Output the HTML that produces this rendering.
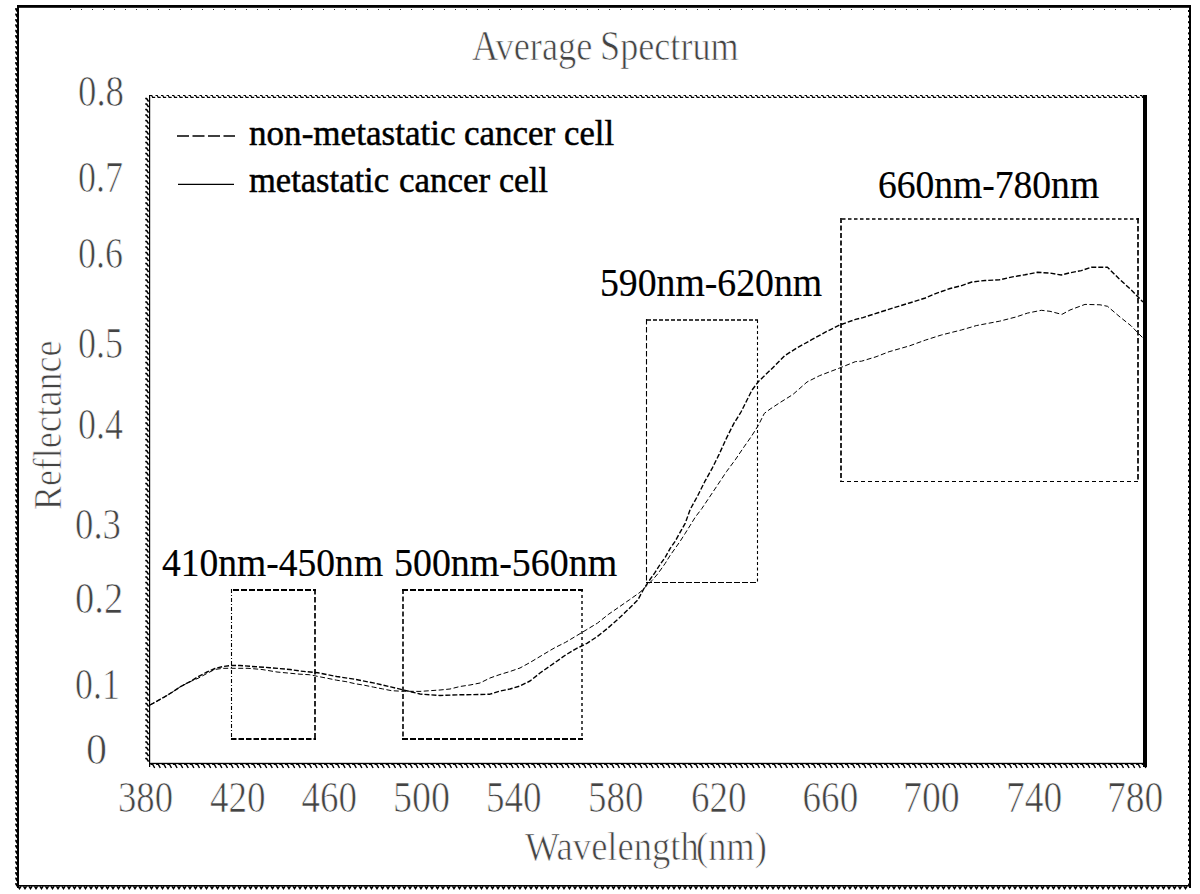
<!DOCTYPE html>
<html><head><meta charset="utf-8"><style>
html,body{margin:0;padding:0;background:#fff;width:1200px;height:894px;overflow:hidden}
svg{display:block}
text{font-family:"Liberation Serif",serif}
</style></head><body>
<svg width="1200" height="894" viewBox="0 0 1200 894">
<rect x="0" y="0" width="1200" height="894" fill="#fff"/>
<!-- outer frame -->
<rect x="17" y="5" width="1174" height="2.8" fill="#000"/>
<rect x="17" y="5" width="2" height="883" fill="#000"/>
<rect x="1189" y="5" width="2" height="883" fill="#000"/>
<rect x="17" y="885" width="1174" height="1.6" fill="#000"/>
<path d="M15.2,9.00 L16,9.00 L17.4,11.60 M15.2,14.40 L16,14.40 L17.4,17.00 M15.2,19.80 L16,19.80 L17.4,22.40 M15.2,25.20 L16,25.20 L17.4,27.80 M15.2,30.60 L16,30.60 L17.4,33.20 M15.2,36.00 L16,36.00 L17.4,38.60 M15.2,41.40 L16,41.40 L17.4,44.00 M15.2,46.80 L16,46.80 L17.4,49.40 M15.2,52.20 L16,52.20 L17.4,54.80 M15.2,57.60 L16,57.60 L17.4,60.20 M15.2,63.00 L16,63.00 L17.4,65.60 M15.2,68.40 L16,68.40 L17.4,71.00 M15.2,73.80 L16,73.80 L17.4,76.40 M15.2,79.20 L16,79.20 L17.4,81.80 M15.2,84.60 L16,84.60 L17.4,87.20 M15.2,90.00 L16,90.00 L17.4,92.60 M15.2,95.40 L16,95.40 L17.4,98.00 M15.2,100.80 L16,100.80 L17.4,103.40 M15.2,106.20 L16,106.20 L17.4,108.80 M15.2,111.60 L16,111.60 L17.4,114.20 M15.2,117.00 L16,117.00 L17.4,119.60 M15.2,122.40 L16,122.40 L17.4,125.00 M15.2,127.80 L16,127.80 L17.4,130.40 M15.2,133.20 L16,133.20 L17.4,135.80 M15.2,138.60 L16,138.60 L17.4,141.20 M15.2,144.00 L16,144.00 L17.4,146.60 M15.2,149.40 L16,149.40 L17.4,152.00 M15.2,154.80 L16,154.80 L17.4,157.40 M15.2,160.20 L16,160.20 L17.4,162.80 M15.2,165.60 L16,165.60 L17.4,168.20 M15.2,171.00 L16,171.00 L17.4,173.60 M15.2,176.40 L16,176.40 L17.4,179.00 M15.2,181.80 L16,181.80 L17.4,184.40 M15.2,187.20 L16,187.20 L17.4,189.80 M15.2,192.60 L16,192.60 L17.4,195.20 M15.2,198.00 L16,198.00 L17.4,200.60 M15.2,203.40 L16,203.40 L17.4,206.00 M15.2,208.80 L16,208.80 L17.4,211.40 M15.2,214.20 L16,214.20 L17.4,216.80 M15.2,219.60 L16,219.60 L17.4,222.20 M15.2,225.00 L16,225.00 L17.4,227.60 M15.2,230.40 L16,230.40 L17.4,233.00 M15.2,235.80 L16,235.80 L17.4,238.40 M15.2,241.20 L16,241.20 L17.4,243.80 M15.2,246.60 L16,246.60 L17.4,249.20 M15.2,252.00 L16,252.00 L17.4,254.60 M15.2,257.40 L16,257.40 L17.4,260.00 M15.2,262.80 L16,262.80 L17.4,265.40 M15.2,268.20 L16,268.20 L17.4,270.80 M15.2,273.60 L16,273.60 L17.4,276.20 M15.2,279.00 L16,279.00 L17.4,281.60 M15.2,284.40 L16,284.40 L17.4,287.00 M15.2,289.80 L16,289.80 L17.4,292.40 M15.2,295.20 L16,295.20 L17.4,297.80 M15.2,300.60 L16,300.60 L17.4,303.20 M15.2,306.00 L16,306.00 L17.4,308.60 M15.2,311.40 L16,311.40 L17.4,314.00 M15.2,316.80 L16,316.80 L17.4,319.40 M15.2,322.20 L16,322.20 L17.4,324.80 M15.2,327.60 L16,327.60 L17.4,330.20 M15.2,333.00 L16,333.00 L17.4,335.60 M15.2,338.40 L16,338.40 L17.4,341.00 M15.2,343.80 L16,343.80 L17.4,346.40 M15.2,349.20 L16,349.20 L17.4,351.80 M15.2,354.60 L16,354.60 L17.4,357.20 M15.2,360.00 L16,360.00 L17.4,362.60 M15.2,365.40 L16,365.40 L17.4,368.00 M15.2,370.80 L16,370.80 L17.4,373.40 M15.2,376.20 L16,376.20 L17.4,378.80 M15.2,381.60 L16,381.60 L17.4,384.20 M15.2,387.00 L16,387.00 L17.4,389.60 M15.2,392.40 L16,392.40 L17.4,395.00 M15.2,397.80 L16,397.80 L17.4,400.40 M15.2,403.20 L16,403.20 L17.4,405.80 M15.2,408.60 L16,408.60 L17.4,411.20 M15.2,414.00 L16,414.00 L17.4,416.60 M15.2,419.40 L16,419.40 L17.4,422.00 M15.2,424.80 L16,424.80 L17.4,427.40 M15.2,430.20 L16,430.20 L17.4,432.80 M15.2,435.60 L16,435.60 L17.4,438.20 M15.2,441.00 L16,441.00 L17.4,443.60 M15.2,446.40 L16,446.40 L17.4,449.00 M15.2,451.80 L16,451.80 L17.4,454.40 M15.2,457.20 L16,457.20 L17.4,459.80 M15.2,462.60 L16,462.60 L17.4,465.20 M15.2,468.00 L16,468.00 L17.4,470.60 M15.2,473.40 L16,473.40 L17.4,476.00 M15.2,478.80 L16,478.80 L17.4,481.40 M15.2,484.20 L16,484.20 L17.4,486.80 M15.2,489.60 L16,489.60 L17.4,492.20 M15.2,495.00 L16,495.00 L17.4,497.60 M15.2,500.40 L16,500.40 L17.4,503.00 M15.2,505.80 L16,505.80 L17.4,508.40 M15.2,511.20 L16,511.20 L17.4,513.80 M15.2,516.60 L16,516.60 L17.4,519.20 M15.2,522.00 L16,522.00 L17.4,524.60 M15.2,527.40 L16,527.40 L17.4,530.00 M15.2,532.80 L16,532.80 L17.4,535.40 M15.2,538.20 L16,538.20 L17.4,540.80 M15.2,543.60 L16,543.60 L17.4,546.20 M15.2,549.00 L16,549.00 L17.4,551.60 M15.2,554.40 L16,554.40 L17.4,557.00 M15.2,559.80 L16,559.80 L17.4,562.40 M15.2,565.20 L16,565.20 L17.4,567.80 M15.2,570.60 L16,570.60 L17.4,573.20 M15.2,576.00 L16,576.00 L17.4,578.60 M15.2,581.40 L16,581.40 L17.4,584.00 M15.2,586.80 L16,586.80 L17.4,589.40 M15.2,592.20 L16,592.20 L17.4,594.80 M15.2,597.60 L16,597.60 L17.4,600.20 M15.2,603.00 L16,603.00 L17.4,605.60 M15.2,608.40 L16,608.40 L17.4,611.00 M15.2,613.80 L16,613.80 L17.4,616.40 M15.2,619.20 L16,619.20 L17.4,621.80 M15.2,624.60 L16,624.60 L17.4,627.20 M15.2,630.00 L16,630.00 L17.4,632.60 M15.2,635.40 L16,635.40 L17.4,638.00 M15.2,640.80 L16,640.80 L17.4,643.40 M15.2,646.20 L16,646.20 L17.4,648.80 M15.2,651.60 L16,651.60 L17.4,654.20 M15.2,657.00 L16,657.00 L17.4,659.60 M15.2,662.40 L16,662.40 L17.4,665.00 M15.2,667.80 L16,667.80 L17.4,670.40 M15.2,673.20 L16,673.20 L17.4,675.80 M15.2,678.60 L16,678.60 L17.4,681.20 M15.2,684.00 L16,684.00 L17.4,686.60 M15.2,689.40 L16,689.40 L17.4,692.00 M15.2,694.80 L16,694.80 L17.4,697.40 M15.2,700.20 L16,700.20 L17.4,702.80 M15.2,705.60 L16,705.60 L17.4,708.20 M15.2,711.00 L16,711.00 L17.4,713.60 M15.2,716.40 L16,716.40 L17.4,719.00 M15.2,721.80 L16,721.80 L17.4,724.40 M15.2,727.20 L16,727.20 L17.4,729.80 M15.2,732.60 L16,732.60 L17.4,735.20 M15.2,738.00 L16,738.00 L17.4,740.60 M15.2,743.40 L16,743.40 L17.4,746.00 M15.2,748.80 L16,748.80 L17.4,751.40 M15.2,754.20 L16,754.20 L17.4,756.80 M15.2,759.60 L16,759.60 L17.4,762.20 M15.2,765.00 L16,765.00 L17.4,767.60 M15.2,770.40 L16,770.40 L17.4,773.00 M15.2,775.80 L16,775.80 L17.4,778.40 M15.2,781.20 L16,781.20 L17.4,783.80 M15.2,786.60 L16,786.60 L17.4,789.20 M15.2,792.00 L16,792.00 L17.4,794.60 M15.2,797.40 L16,797.40 L17.4,800.00 M15.2,802.80 L16,802.80 L17.4,805.40 M15.2,808.20 L16,808.20 L17.4,810.80 M15.2,813.60 L16,813.60 L17.4,816.20 M15.2,819.00 L16,819.00 L17.4,821.60 M15.2,824.40 L16,824.40 L17.4,827.00 M15.2,829.80 L16,829.80 L17.4,832.40 M15.2,835.20 L16,835.20 L17.4,837.80 M15.2,840.60 L16,840.60 L17.4,843.20 M15.2,846.00 L16,846.00 L17.4,848.60 M15.2,851.40 L16,851.40 L17.4,854.00 M15.2,856.80 L16,856.80 L17.4,859.40 M15.2,862.20 L16,862.20 L17.4,864.80 M15.2,867.60 L16,867.60 L17.4,870.20 M15.2,873.00 L16,873.00 L17.4,875.60 M15.2,878.40 L16,878.40 L17.4,881.00 M15.2,883.80 L16,883.80 L17.4,886.40" stroke="#000" stroke-width="1.8" fill="none"/>
<path d="M1188.5,10.00 L1188.5,12.00 M1188.5,15.60 L1188.5,17.60 M1188.5,21.20 L1188.5,23.20 M1188.5,26.80 L1188.5,28.80 M1188.5,32.40 L1188.5,34.40 M1188.5,38.00 L1188.5,40.00 M1188.5,43.60 L1188.5,45.60 M1188.5,49.20 L1188.5,51.20 M1188.5,54.80 L1188.5,56.80 M1188.5,60.40 L1188.5,62.40 M1188.5,66.00 L1188.5,68.00 M1188.5,71.60 L1188.5,73.60 M1188.5,77.20 L1188.5,79.20 M1188.5,82.80 L1188.5,84.80 M1188.5,88.40 L1188.5,90.40 M1188.5,94.00 L1188.5,96.00 M1188.5,99.60 L1188.5,101.60 M1188.5,105.20 L1188.5,107.20 M1188.5,110.80 L1188.5,112.80 M1188.5,116.40 L1188.5,118.40 M1188.5,122.00 L1188.5,124.00 M1188.5,127.60 L1188.5,129.60 M1188.5,133.20 L1188.5,135.20 M1188.5,138.80 L1188.5,140.80 M1188.5,144.40 L1188.5,146.40 M1188.5,150.00 L1188.5,152.00 M1188.5,155.60 L1188.5,157.60 M1188.5,161.20 L1188.5,163.20 M1188.5,166.80 L1188.5,168.80 M1188.5,172.40 L1188.5,174.40 M1188.5,178.00 L1188.5,180.00 M1188.5,183.60 L1188.5,185.60 M1188.5,189.20 L1188.5,191.20 M1188.5,194.80 L1188.5,196.80 M1188.5,200.40 L1188.5,202.40 M1188.5,206.00 L1188.5,208.00 M1188.5,211.60 L1188.5,213.60 M1188.5,217.20 L1188.5,219.20 M1188.5,222.80 L1188.5,224.80 M1188.5,228.40 L1188.5,230.40 M1188.5,234.00 L1188.5,236.00 M1188.5,239.60 L1188.5,241.60 M1188.5,245.20 L1188.5,247.20 M1188.5,250.80 L1188.5,252.80 M1188.5,256.40 L1188.5,258.40 M1188.5,262.00 L1188.5,264.00 M1188.5,267.60 L1188.5,269.60 M1188.5,273.20 L1188.5,275.20 M1188.5,278.80 L1188.5,280.80 M1188.5,284.40 L1188.5,286.40 M1188.5,290.00 L1188.5,292.00 M1188.5,295.60 L1188.5,297.60 M1188.5,301.20 L1188.5,303.20 M1188.5,306.80 L1188.5,308.80 M1188.5,312.40 L1188.5,314.40 M1188.5,318.00 L1188.5,320.00 M1188.5,323.60 L1188.5,325.60 M1188.5,329.20 L1188.5,331.20 M1188.5,334.80 L1188.5,336.80 M1188.5,340.40 L1188.5,342.40 M1188.5,346.00 L1188.5,348.00 M1188.5,351.60 L1188.5,353.60 M1188.5,357.20 L1188.5,359.20 M1188.5,362.80 L1188.5,364.80 M1188.5,368.40 L1188.5,370.40 M1188.5,374.00 L1188.5,376.00 M1188.5,379.60 L1188.5,381.60 M1188.5,385.20 L1188.5,387.20 M1188.5,390.80 L1188.5,392.80 M1188.5,396.40 L1188.5,398.40 M1188.5,402.00 L1188.5,404.00 M1188.5,407.60 L1188.5,409.60 M1188.5,413.20 L1188.5,415.20 M1188.5,418.80 L1188.5,420.80 M1188.5,424.40 L1188.5,426.40 M1188.5,430.00 L1188.5,432.00 M1188.5,435.60 L1188.5,437.60 M1188.5,441.20 L1188.5,443.20 M1188.5,446.80 L1188.5,448.80 M1188.5,452.40 L1188.5,454.40 M1188.5,458.00 L1188.5,460.00 M1188.5,463.60 L1188.5,465.60 M1188.5,469.20 L1188.5,471.20 M1188.5,474.80 L1188.5,476.80 M1188.5,480.40 L1188.5,482.40 M1188.5,486.00 L1188.5,488.00 M1188.5,491.60 L1188.5,493.60 M1188.5,497.20 L1188.5,499.20 M1188.5,502.80 L1188.5,504.80 M1188.5,508.40 L1188.5,510.40 M1188.5,514.00 L1188.5,516.00 M1188.5,519.60 L1188.5,521.60 M1188.5,525.20 L1188.5,527.20 M1188.5,530.80 L1188.5,532.80 M1188.5,536.40 L1188.5,538.40 M1188.5,542.00 L1188.5,544.00 M1188.5,547.60 L1188.5,549.60 M1188.5,553.20 L1188.5,555.20 M1188.5,558.80 L1188.5,560.80 M1188.5,564.40 L1188.5,566.40 M1188.5,570.00 L1188.5,572.00 M1188.5,575.60 L1188.5,577.60 M1188.5,581.20 L1188.5,583.20 M1188.5,586.80 L1188.5,588.80 M1188.5,592.40 L1188.5,594.40 M1188.5,598.00 L1188.5,600.00 M1188.5,603.60 L1188.5,605.60 M1188.5,609.20 L1188.5,611.20 M1188.5,614.80 L1188.5,616.80 M1188.5,620.40 L1188.5,622.40 M1188.5,626.00 L1188.5,628.00 M1188.5,631.60 L1188.5,633.60 M1188.5,637.20 L1188.5,639.20 M1188.5,642.80 L1188.5,644.80 M1188.5,648.40 L1188.5,650.40 M1188.5,654.00 L1188.5,656.00 M1188.5,659.60 L1188.5,661.60 M1188.5,665.20 L1188.5,667.20 M1188.5,670.80 L1188.5,672.80 M1188.5,676.40 L1188.5,678.40 M1188.5,682.00 L1188.5,684.00 M1188.5,687.60 L1188.5,689.60 M1188.5,693.20 L1188.5,695.20 M1188.5,698.80 L1188.5,700.80 M1188.5,704.40 L1188.5,706.40 M1188.5,710.00 L1188.5,712.00 M1188.5,715.60 L1188.5,717.60 M1188.5,721.20 L1188.5,723.20 M1188.5,726.80 L1188.5,728.80 M1188.5,732.40 L1188.5,734.40 M1188.5,738.00 L1188.5,740.00 M1188.5,743.60 L1188.5,745.60 M1188.5,749.20 L1188.5,751.20 M1188.5,754.80 L1188.5,756.80 M1188.5,760.40 L1188.5,762.40 M1188.5,766.00 L1188.5,768.00 M1188.5,771.60 L1188.5,773.60 M1188.5,777.20 L1188.5,779.20 M1188.5,782.80 L1188.5,784.80 M1188.5,788.40 L1188.5,790.40 M1188.5,794.00 L1188.5,796.00 M1188.5,799.60 L1188.5,801.60 M1188.5,805.20 L1188.5,807.20 M1188.5,810.80 L1188.5,812.80 M1188.5,816.40 L1188.5,818.40 M1188.5,822.00 L1188.5,824.00 M1188.5,827.60 L1188.5,829.60 M1188.5,833.20 L1188.5,835.20 M1188.5,838.80 L1188.5,840.80 M1188.5,844.40 L1188.5,846.40 M1188.5,850.00 L1188.5,852.00 M1188.5,855.60 L1188.5,857.60 M1188.5,861.20 L1188.5,863.20 M1188.5,866.80 L1188.5,868.80 M1188.5,872.40 L1188.5,874.40 M1188.5,878.00 L1188.5,880.00 M1188.5,883.60 L1188.5,885.60" stroke="#000" stroke-width="1" fill="none"/>
<path d="M18.00,886.4 L19.50,888.6 L21.00,886.4 M23.50,886.4 L25.00,888.6 L26.50,886.4 M29.00,886.4 L30.50,888.6 L32.00,886.4 M34.50,886.4 L36.00,888.6 L37.50,886.4 M40.00,886.4 L41.50,888.6 L43.00,886.4 M45.50,886.4 L47.00,888.6 L48.50,886.4 M51.00,886.4 L52.50,888.6 L54.00,886.4 M56.50,886.4 L58.00,888.6 L59.50,886.4 M62.00,886.4 L63.50,888.6 L65.00,886.4 M67.50,886.4 L69.00,888.6 L70.50,886.4 M73.00,886.4 L74.50,888.6 L76.00,886.4 M78.50,886.4 L80.00,888.6 L81.50,886.4 M84.00,886.4 L85.50,888.6 L87.00,886.4 M89.50,886.4 L91.00,888.6 L92.50,886.4 M95.00,886.4 L96.50,888.6 L98.00,886.4 M100.50,886.4 L102.00,888.6 L103.50,886.4 M106.00,886.4 L107.50,888.6 L109.00,886.4 M111.50,886.4 L113.00,888.6 L114.50,886.4 M117.00,886.4 L118.50,888.6 L120.00,886.4 M122.50,886.4 L124.00,888.6 L125.50,886.4 M128.00,886.4 L129.50,888.6 L131.00,886.4 M133.50,886.4 L135.00,888.6 L136.50,886.4 M139.00,886.4 L140.50,888.6 L142.00,886.4 M144.50,886.4 L146.00,888.6 L147.50,886.4 M150.00,886.4 L151.50,888.6 L153.00,886.4 M155.50,886.4 L157.00,888.6 L158.50,886.4 M161.00,886.4 L162.50,888.6 L164.00,886.4 M166.50,886.4 L168.00,888.6 L169.50,886.4 M172.00,886.4 L173.50,888.6 L175.00,886.4 M177.50,886.4 L179.00,888.6 L180.50,886.4 M183.00,886.4 L184.50,888.6 L186.00,886.4 M188.50,886.4 L190.00,888.6 L191.50,886.4 M194.00,886.4 L195.50,888.6 L197.00,886.4 M199.50,886.4 L201.00,888.6 L202.50,886.4 M205.00,886.4 L206.50,888.6 L208.00,886.4 M210.50,886.4 L212.00,888.6 L213.50,886.4 M216.00,886.4 L217.50,888.6 L219.00,886.4 M221.50,886.4 L223.00,888.6 L224.50,886.4 M227.00,886.4 L228.50,888.6 L230.00,886.4 M232.50,886.4 L234.00,888.6 L235.50,886.4 M238.00,886.4 L239.50,888.6 L241.00,886.4 M243.50,886.4 L245.00,888.6 L246.50,886.4 M249.00,886.4 L250.50,888.6 L252.00,886.4 M254.50,886.4 L256.00,888.6 L257.50,886.4 M260.00,886.4 L261.50,888.6 L263.00,886.4 M265.50,886.4 L267.00,888.6 L268.50,886.4 M271.00,886.4 L272.50,888.6 L274.00,886.4 M276.50,886.4 L278.00,888.6 L279.50,886.4 M282.00,886.4 L283.50,888.6 L285.00,886.4 M287.50,886.4 L289.00,888.6 L290.50,886.4 M293.00,886.4 L294.50,888.6 L296.00,886.4 M298.50,886.4 L300.00,888.6 L301.50,886.4 M304.00,886.4 L305.50,888.6 L307.00,886.4 M309.50,886.4 L311.00,888.6 L312.50,886.4 M315.00,886.4 L316.50,888.6 L318.00,886.4 M320.50,886.4 L322.00,888.6 L323.50,886.4 M326.00,886.4 L327.50,888.6 L329.00,886.4 M331.50,886.4 L333.00,888.6 L334.50,886.4 M337.00,886.4 L338.50,888.6 L340.00,886.4 M342.50,886.4 L344.00,888.6 L345.50,886.4 M348.00,886.4 L349.50,888.6 L351.00,886.4 M353.50,886.4 L355.00,888.6 L356.50,886.4 M359.00,886.4 L360.50,888.6 L362.00,886.4 M364.50,886.4 L366.00,888.6 L367.50,886.4 M370.00,886.4 L371.50,888.6 L373.00,886.4 M375.50,886.4 L377.00,888.6 L378.50,886.4 M381.00,886.4 L382.50,888.6 L384.00,886.4 M386.50,886.4 L388.00,888.6 L389.50,886.4 M392.00,886.4 L393.50,888.6 L395.00,886.4 M397.50,886.4 L399.00,888.6 L400.50,886.4 M403.00,886.4 L404.50,888.6 L406.00,886.4 M408.50,886.4 L410.00,888.6 L411.50,886.4 M414.00,886.4 L415.50,888.6 L417.00,886.4 M419.50,886.4 L421.00,888.6 L422.50,886.4 M425.00,886.4 L426.50,888.6 L428.00,886.4 M430.50,886.4 L432.00,888.6 L433.50,886.4 M436.00,886.4 L437.50,888.6 L439.00,886.4 M441.50,886.4 L443.00,888.6 L444.50,886.4 M447.00,886.4 L448.50,888.6 L450.00,886.4 M452.50,886.4 L454.00,888.6 L455.50,886.4 M458.00,886.4 L459.50,888.6 L461.00,886.4 M463.50,886.4 L465.00,888.6 L466.50,886.4 M469.00,886.4 L470.50,888.6 L472.00,886.4 M474.50,886.4 L476.00,888.6 L477.50,886.4 M480.00,886.4 L481.50,888.6 L483.00,886.4 M485.50,886.4 L487.00,888.6 L488.50,886.4 M491.00,886.4 L492.50,888.6 L494.00,886.4 M496.50,886.4 L498.00,888.6 L499.50,886.4 M502.00,886.4 L503.50,888.6 L505.00,886.4 M507.50,886.4 L509.00,888.6 L510.50,886.4 M513.00,886.4 L514.50,888.6 L516.00,886.4 M518.50,886.4 L520.00,888.6 L521.50,886.4 M524.00,886.4 L525.50,888.6 L527.00,886.4 M529.50,886.4 L531.00,888.6 L532.50,886.4 M535.00,886.4 L536.50,888.6 L538.00,886.4 M540.50,886.4 L542.00,888.6 L543.50,886.4 M546.00,886.4 L547.50,888.6 L549.00,886.4 M551.50,886.4 L553.00,888.6 L554.50,886.4 M557.00,886.4 L558.50,888.6 L560.00,886.4 M562.50,886.4 L564.00,888.6 L565.50,886.4 M568.00,886.4 L569.50,888.6 L571.00,886.4 M573.50,886.4 L575.00,888.6 L576.50,886.4 M579.00,886.4 L580.50,888.6 L582.00,886.4 M584.50,886.4 L586.00,888.6 L587.50,886.4 M590.00,886.4 L591.50,888.6 L593.00,886.4 M595.50,886.4 L597.00,888.6 L598.50,886.4 M601.00,886.4 L602.50,888.6 L604.00,886.4 M606.50,886.4 L608.00,888.6 L609.50,886.4 M612.00,886.4 L613.50,888.6 L615.00,886.4 M617.50,886.4 L619.00,888.6 L620.50,886.4 M623.00,886.4 L624.50,888.6 L626.00,886.4 M628.50,886.4 L630.00,888.6 L631.50,886.4 M634.00,886.4 L635.50,888.6 L637.00,886.4 M639.50,886.4 L641.00,888.6 L642.50,886.4 M645.00,886.4 L646.50,888.6 L648.00,886.4 M650.50,886.4 L652.00,888.6 L653.50,886.4 M656.00,886.4 L657.50,888.6 L659.00,886.4 M661.50,886.4 L663.00,888.6 L664.50,886.4 M667.00,886.4 L668.50,888.6 L670.00,886.4 M672.50,886.4 L674.00,888.6 L675.50,886.4 M678.00,886.4 L679.50,888.6 L681.00,886.4 M683.50,886.4 L685.00,888.6 L686.50,886.4 M689.00,886.4 L690.50,888.6 L692.00,886.4 M694.50,886.4 L696.00,888.6 L697.50,886.4 M700.00,886.4 L701.50,888.6 L703.00,886.4 M705.50,886.4 L707.00,888.6 L708.50,886.4 M711.00,886.4 L712.50,888.6 L714.00,886.4 M716.50,886.4 L718.00,888.6 L719.50,886.4 M722.00,886.4 L723.50,888.6 L725.00,886.4 M727.50,886.4 L729.00,888.6 L730.50,886.4 M733.00,886.4 L734.50,888.6 L736.00,886.4 M738.50,886.4 L740.00,888.6 L741.50,886.4 M744.00,886.4 L745.50,888.6 L747.00,886.4 M749.50,886.4 L751.00,888.6 L752.50,886.4 M755.00,886.4 L756.50,888.6 L758.00,886.4 M760.50,886.4 L762.00,888.6 L763.50,886.4 M766.00,886.4 L767.50,888.6 L769.00,886.4 M771.50,886.4 L773.00,888.6 L774.50,886.4 M777.00,886.4 L778.50,888.6 L780.00,886.4 M782.50,886.4 L784.00,888.6 L785.50,886.4 M788.00,886.4 L789.50,888.6 L791.00,886.4 M793.50,886.4 L795.00,888.6 L796.50,886.4 M799.00,886.4 L800.50,888.6 L802.00,886.4 M804.50,886.4 L806.00,888.6 L807.50,886.4 M810.00,886.4 L811.50,888.6 L813.00,886.4 M815.50,886.4 L817.00,888.6 L818.50,886.4 M821.00,886.4 L822.50,888.6 L824.00,886.4 M826.50,886.4 L828.00,888.6 L829.50,886.4 M832.00,886.4 L833.50,888.6 L835.00,886.4 M837.50,886.4 L839.00,888.6 L840.50,886.4 M843.00,886.4 L844.50,888.6 L846.00,886.4 M848.50,886.4 L850.00,888.6 L851.50,886.4 M854.00,886.4 L855.50,888.6 L857.00,886.4 M859.50,886.4 L861.00,888.6 L862.50,886.4 M865.00,886.4 L866.50,888.6 L868.00,886.4 M870.50,886.4 L872.00,888.6 L873.50,886.4 M876.00,886.4 L877.50,888.6 L879.00,886.4 M881.50,886.4 L883.00,888.6 L884.50,886.4 M887.00,886.4 L888.50,888.6 L890.00,886.4 M892.50,886.4 L894.00,888.6 L895.50,886.4 M898.00,886.4 L899.50,888.6 L901.00,886.4 M903.50,886.4 L905.00,888.6 L906.50,886.4 M909.00,886.4 L910.50,888.6 L912.00,886.4 M914.50,886.4 L916.00,888.6 L917.50,886.4 M920.00,886.4 L921.50,888.6 L923.00,886.4 M925.50,886.4 L927.00,888.6 L928.50,886.4 M931.00,886.4 L932.50,888.6 L934.00,886.4 M936.50,886.4 L938.00,888.6 L939.50,886.4 M942.00,886.4 L943.50,888.6 L945.00,886.4 M947.50,886.4 L949.00,888.6 L950.50,886.4 M953.00,886.4 L954.50,888.6 L956.00,886.4 M958.50,886.4 L960.00,888.6 L961.50,886.4 M964.00,886.4 L965.50,888.6 L967.00,886.4 M969.50,886.4 L971.00,888.6 L972.50,886.4 M975.00,886.4 L976.50,888.6 L978.00,886.4 M980.50,886.4 L982.00,888.6 L983.50,886.4 M986.00,886.4 L987.50,888.6 L989.00,886.4 M991.50,886.4 L993.00,888.6 L994.50,886.4 M997.00,886.4 L998.50,888.6 L1000.00,886.4 M1002.50,886.4 L1004.00,888.6 L1005.50,886.4 M1008.00,886.4 L1009.50,888.6 L1011.00,886.4 M1013.50,886.4 L1015.00,888.6 L1016.50,886.4 M1019.00,886.4 L1020.50,888.6 L1022.00,886.4 M1024.50,886.4 L1026.00,888.6 L1027.50,886.4 M1030.00,886.4 L1031.50,888.6 L1033.00,886.4 M1035.50,886.4 L1037.00,888.6 L1038.50,886.4 M1041.00,886.4 L1042.50,888.6 L1044.00,886.4 M1046.50,886.4 L1048.00,888.6 L1049.50,886.4 M1052.00,886.4 L1053.50,888.6 L1055.00,886.4 M1057.50,886.4 L1059.00,888.6 L1060.50,886.4 M1063.00,886.4 L1064.50,888.6 L1066.00,886.4 M1068.50,886.4 L1070.00,888.6 L1071.50,886.4 M1074.00,886.4 L1075.50,888.6 L1077.00,886.4 M1079.50,886.4 L1081.00,888.6 L1082.50,886.4 M1085.00,886.4 L1086.50,888.6 L1088.00,886.4 M1090.50,886.4 L1092.00,888.6 L1093.50,886.4 M1096.00,886.4 L1097.50,888.6 L1099.00,886.4 M1101.50,886.4 L1103.00,888.6 L1104.50,886.4 M1107.00,886.4 L1108.50,888.6 L1110.00,886.4 M1112.50,886.4 L1114.00,888.6 L1115.50,886.4 M1118.00,886.4 L1119.50,888.6 L1121.00,886.4 M1123.50,886.4 L1125.00,888.6 L1126.50,886.4 M1129.00,886.4 L1130.50,888.6 L1132.00,886.4 M1134.50,886.4 L1136.00,888.6 L1137.50,886.4 M1140.00,886.4 L1141.50,888.6 L1143.00,886.4 M1145.50,886.4 L1147.00,888.6 L1148.50,886.4 M1151.00,886.4 L1152.50,888.6 L1154.00,886.4 M1156.50,886.4 L1158.00,888.6 L1159.50,886.4 M1162.00,886.4 L1163.50,888.6 L1165.00,886.4 M1167.50,886.4 L1169.00,888.6 L1170.50,886.4 M1173.00,886.4 L1174.50,888.6 L1176.00,886.4 M1178.50,886.4 L1180.00,888.6 L1181.50,886.4 M1184.00,886.4 L1185.50,888.6 L1187.00,886.4" stroke="#000" stroke-width="1.5" fill="none"/>
<path d="M70.0,9.5 h1 M81.0,9.5 h1 M92.0,9.5 h1 M103.0,9.5 h1 M114.0,9.5 h1 M125.0,9.5 h1 M136.0,9.5 h1 M147.0,9.5 h1 M158.0,9.5 h1 M169.0,9.5 h1 M180.0,9.5 h1 M191.0,9.5 h1 M202.0,9.5 h1 M213.0,9.5 h1 M224.0,9.5 h1 M235.0,9.5 h1 M246.0,9.5 h1 M257.0,9.5 h1 M268.0,9.5 h1 M279.0,9.5 h1 M290.0,9.5 h1 M301.0,9.5 h1 M312.0,9.5 h1 M323.0,9.5 h1 M334.0,9.5 h1 M345.0,9.5 h1 M356.0,9.5 h1 M367.0,9.5 h1 M378.0,9.5 h1 M389.0,9.5 h1 M400.0,9.5 h1 M411.0,9.5 h1 M422.0,9.5 h1 M433.0,9.5 h1 M444.0,9.5 h1 M455.0,9.5 h1 M466.0,9.5 h1 M477.0,9.5 h1 M488.0,9.5 h1 M499.0,9.5 h1 M510.0,9.5 h1 M521.0,9.5 h1 M532.0,9.5 h1 M543.0,9.5 h1 M554.0,9.5 h1 M565.0,9.5 h1 M576.0,9.5 h1 M587.0,9.5 h1 M598.0,9.5 h1 M609.0,9.5 h1 M620.0,9.5 h1 M631.0,9.5 h1 M642.0,9.5 h1 M653.0,9.5 h1 M664.0,9.5 h1 M675.0,9.5 h1 M686.0,9.5 h1 M697.0,9.5 h1 M708.0,9.5 h1 M719.0,9.5 h1 M730.0,9.5 h1 M741.0,9.5 h1 M752.0,9.5 h1 M763.0,9.5 h1 M774.0,9.5 h1 M785.0,9.5 h1 M796.0,9.5 h1 M807.0,9.5 h1 M818.0,9.5 h1 M829.0,9.5 h1 M840.0,9.5 h1 M851.0,9.5 h1 M862.0,9.5 h1 M873.0,9.5 h1 M884.0,9.5 h1 M895.0,9.5 h1 M906.0,9.5 h1 M917.0,9.5 h1 M928.0,9.5 h1 M939.0,9.5 h1 M950.0,9.5 h1 M961.0,9.5 h1 M972.0,9.5 h1 M983.0,9.5 h1 M994.0,9.5 h1 M1005.0,9.5 h1 M1016.0,9.5 h1 M1027.0,9.5 h1 M1038.0,9.5 h1 M1049.0,9.5 h1 M1060.0,9.5 h1 M1071.0,9.5 h1 M1082.0,9.5 h1 M1093.0,9.5 h1 M1104.0,9.5 h1 M1115.0,9.5 h1 M1126.0,9.5 h1 M1137.0,9.5 h1 M1148.0,9.5 h1 M1159.0,9.5 h1 M1170.0,9.5 h1" stroke="#000" stroke-width="1" fill="none" opacity="0.8"/>
<rect x="149" y="95" width="1.2" height="672" fill="#000"/>
<path d="M145.2,98.50 L146.6,98.50 L148.6,101.70 M145.2,104.00 L146.6,104.00 L148.6,107.20 M145.2,109.50 L146.6,109.50 L148.6,112.70 M145.2,115.00 L146.6,115.00 L148.6,118.20 M145.2,120.50 L146.6,120.50 L148.6,123.70 M145.2,126.00 L146.6,126.00 L148.6,129.20 M145.2,131.50 L146.6,131.50 L148.6,134.70 M145.2,137.00 L146.6,137.00 L148.6,140.20 M145.2,142.50 L146.6,142.50 L148.6,145.70 M145.2,148.00 L146.6,148.00 L148.6,151.20 M145.2,153.50 L146.6,153.50 L148.6,156.70 M145.2,159.00 L146.6,159.00 L148.6,162.20 M145.2,164.50 L146.6,164.50 L148.6,167.70 M145.2,170.00 L146.6,170.00 L148.6,173.20 M145.2,175.50 L146.6,175.50 L148.6,178.70 M145.2,181.00 L146.6,181.00 L148.6,184.20 M145.2,186.50 L146.6,186.50 L148.6,189.70 M145.2,192.00 L146.6,192.00 L148.6,195.20 M145.2,197.50 L146.6,197.50 L148.6,200.70 M145.2,203.00 L146.6,203.00 L148.6,206.20 M145.2,208.50 L146.6,208.50 L148.6,211.70 M145.2,214.00 L146.6,214.00 L148.6,217.20 M145.2,219.50 L146.6,219.50 L148.6,222.70 M145.2,225.00 L146.6,225.00 L148.6,228.20 M145.2,230.50 L146.6,230.50 L148.6,233.70 M145.2,236.00 L146.6,236.00 L148.6,239.20 M145.2,241.50 L146.6,241.50 L148.6,244.70 M145.2,247.00 L146.6,247.00 L148.6,250.20 M145.2,252.50 L146.6,252.50 L148.6,255.70 M145.2,258.00 L146.6,258.00 L148.6,261.20 M145.2,263.50 L146.6,263.50 L148.6,266.70 M145.2,269.00 L146.6,269.00 L148.6,272.20 M145.2,274.50 L146.6,274.50 L148.6,277.70 M145.2,280.00 L146.6,280.00 L148.6,283.20 M145.2,285.50 L146.6,285.50 L148.6,288.70 M145.2,291.00 L146.6,291.00 L148.6,294.20 M145.2,296.50 L146.6,296.50 L148.6,299.70 M145.2,302.00 L146.6,302.00 L148.6,305.20 M145.2,307.50 L146.6,307.50 L148.6,310.70 M145.2,313.00 L146.6,313.00 L148.6,316.20 M145.2,318.50 L146.6,318.50 L148.6,321.70 M145.2,324.00 L146.6,324.00 L148.6,327.20 M145.2,329.50 L146.6,329.50 L148.6,332.70 M145.2,335.00 L146.6,335.00 L148.6,338.20 M145.2,340.50 L146.6,340.50 L148.6,343.70 M145.2,346.00 L146.6,346.00 L148.6,349.20 M145.2,351.50 L146.6,351.50 L148.6,354.70 M145.2,357.00 L146.6,357.00 L148.6,360.20 M145.2,362.50 L146.6,362.50 L148.6,365.70 M145.2,368.00 L146.6,368.00 L148.6,371.20 M145.2,373.50 L146.6,373.50 L148.6,376.70 M145.2,379.00 L146.6,379.00 L148.6,382.20 M145.2,384.50 L146.6,384.50 L148.6,387.70 M145.2,390.00 L146.6,390.00 L148.6,393.20 M145.2,395.50 L146.6,395.50 L148.6,398.70 M145.2,401.00 L146.6,401.00 L148.6,404.20 M145.2,406.50 L146.6,406.50 L148.6,409.70 M145.2,412.00 L146.6,412.00 L148.6,415.20 M145.2,417.50 L146.6,417.50 L148.6,420.70 M145.2,423.00 L146.6,423.00 L148.6,426.20 M145.2,428.50 L146.6,428.50 L148.6,431.70 M145.2,434.00 L146.6,434.00 L148.6,437.20 M145.2,439.50 L146.6,439.50 L148.6,442.70 M145.2,445.00 L146.6,445.00 L148.6,448.20 M145.2,450.50 L146.6,450.50 L148.6,453.70 M145.2,456.00 L146.6,456.00 L148.6,459.20 M145.2,461.50 L146.6,461.50 L148.6,464.70 M145.2,467.00 L146.6,467.00 L148.6,470.20 M145.2,472.50 L146.6,472.50 L148.6,475.70 M145.2,478.00 L146.6,478.00 L148.6,481.20 M145.2,483.50 L146.6,483.50 L148.6,486.70 M145.2,489.00 L146.6,489.00 L148.6,492.20 M145.2,494.50 L146.6,494.50 L148.6,497.70 M145.2,500.00 L146.6,500.00 L148.6,503.20 M145.2,505.50 L146.6,505.50 L148.6,508.70 M145.2,511.00 L146.6,511.00 L148.6,514.20 M145.2,516.50 L146.6,516.50 L148.6,519.70 M145.2,522.00 L146.6,522.00 L148.6,525.20 M145.2,527.50 L146.6,527.50 L148.6,530.70 M145.2,533.00 L146.6,533.00 L148.6,536.20 M145.2,538.50 L146.6,538.50 L148.6,541.70 M145.2,544.00 L146.6,544.00 L148.6,547.20 M145.2,549.50 L146.6,549.50 L148.6,552.70 M145.2,555.00 L146.6,555.00 L148.6,558.20 M145.2,560.50 L146.6,560.50 L148.6,563.70 M145.2,566.00 L146.6,566.00 L148.6,569.20 M145.2,571.50 L146.6,571.50 L148.6,574.70 M145.2,577.00 L146.6,577.00 L148.6,580.20 M145.2,582.50 L146.6,582.50 L148.6,585.70 M145.2,588.00 L146.6,588.00 L148.6,591.20 M145.2,593.50 L146.6,593.50 L148.6,596.70 M145.2,599.00 L146.6,599.00 L148.6,602.20 M145.2,604.50 L146.6,604.50 L148.6,607.70 M145.2,610.00 L146.6,610.00 L148.6,613.20 M145.2,615.50 L146.6,615.50 L148.6,618.70 M145.2,621.00 L146.6,621.00 L148.6,624.20 M145.2,626.50 L146.6,626.50 L148.6,629.70 M145.2,632.00 L146.6,632.00 L148.6,635.20 M145.2,637.50 L146.6,637.50 L148.6,640.70 M145.2,643.00 L146.6,643.00 L148.6,646.20 M145.2,648.50 L146.6,648.50 L148.6,651.70 M145.2,654.00 L146.6,654.00 L148.6,657.20 M145.2,659.50 L146.6,659.50 L148.6,662.70 M145.2,665.00 L146.6,665.00 L148.6,668.20 M145.2,670.50 L146.6,670.50 L148.6,673.70 M145.2,676.00 L146.6,676.00 L148.6,679.20 M145.2,681.50 L146.6,681.50 L148.6,684.70 M145.2,687.00 L146.6,687.00 L148.6,690.20 M145.2,692.50 L146.6,692.50 L148.6,695.70 M145.2,698.00 L146.6,698.00 L148.6,701.20 M145.2,703.50 L146.6,703.50 L148.6,706.70 M145.2,709.00 L146.6,709.00 L148.6,712.20 M145.2,714.50 L146.6,714.50 L148.6,717.70 M145.2,720.00 L146.6,720.00 L148.6,723.20 M145.2,725.50 L146.6,725.50 L148.6,728.70 M145.2,731.00 L146.6,731.00 L148.6,734.20 M145.2,736.50 L146.6,736.50 L148.6,739.70 M145.2,742.00 L146.6,742.00 L148.6,745.20 M145.2,747.50 L146.6,747.50 L148.6,750.70 M145.2,753.00 L146.6,753.00 L148.6,756.20 M145.2,758.50 L146.6,758.50 L148.6,761.70" stroke="#000" stroke-width="1.6" fill="none"/>
<path d="M150.00,95.5 h1.8 L152.60,97.3 h2.6 M155.50,95.5 h1.8 L158.10,97.3 h2.6 M161.00,95.5 h1.8 L163.60,97.3 h2.6 M166.50,95.5 h1.8 L169.10,97.3 h2.6 M172.00,95.5 h1.8 L174.60,97.3 h2.6 M177.50,95.5 h1.8 L180.10,97.3 h2.6 M183.00,95.5 h1.8 L185.60,97.3 h2.6 M188.50,95.5 h1.8 L191.10,97.3 h2.6 M194.00,95.5 h1.8 L196.60,97.3 h2.6 M199.50,95.5 h1.8 L202.10,97.3 h2.6 M205.00,95.5 h1.8 L207.60,97.3 h2.6 M210.50,95.5 h1.8 L213.10,97.3 h2.6 M216.00,95.5 h1.8 L218.60,97.3 h2.6 M221.50,95.5 h1.8 L224.10,97.3 h2.6 M227.00,95.5 h1.8 L229.60,97.3 h2.6 M232.50,95.5 h1.8 L235.10,97.3 h2.6 M238.00,95.5 h1.8 L240.60,97.3 h2.6 M243.50,95.5 h1.8 L246.10,97.3 h2.6 M249.00,95.5 h1.8 L251.60,97.3 h2.6 M254.50,95.5 h1.8 L257.10,97.3 h2.6 M260.00,95.5 h1.8 L262.60,97.3 h2.6 M265.50,95.5 h1.8 L268.10,97.3 h2.6 M271.00,95.5 h1.8 L273.60,97.3 h2.6 M276.50,95.5 h1.8 L279.10,97.3 h2.6 M282.00,95.5 h1.8 L284.60,97.3 h2.6 M287.50,95.5 h1.8 L290.10,97.3 h2.6 M293.00,95.5 h1.8 L295.60,97.3 h2.6 M298.50,95.5 h1.8 L301.10,97.3 h2.6 M304.00,95.5 h1.8 L306.60,97.3 h2.6 M309.50,95.5 h1.8 L312.10,97.3 h2.6 M315.00,95.5 h1.8 L317.60,97.3 h2.6 M320.50,95.5 h1.8 L323.10,97.3 h2.6 M326.00,95.5 h1.8 L328.60,97.3 h2.6 M331.50,95.5 h1.8 L334.10,97.3 h2.6 M337.00,95.5 h1.8 L339.60,97.3 h2.6 M342.50,95.5 h1.8 L345.10,97.3 h2.6 M348.00,95.5 h1.8 L350.60,97.3 h2.6 M353.50,95.5 h1.8 L356.10,97.3 h2.6 M359.00,95.5 h1.8 L361.60,97.3 h2.6 M364.50,95.5 h1.8 L367.10,97.3 h2.6 M370.00,95.5 h1.8 L372.60,97.3 h2.6 M375.50,95.5 h1.8 L378.10,97.3 h2.6 M381.00,95.5 h1.8 L383.60,97.3 h2.6 M386.50,95.5 h1.8 L389.10,97.3 h2.6 M392.00,95.5 h1.8 L394.60,97.3 h2.6 M397.50,95.5 h1.8 L400.10,97.3 h2.6 M403.00,95.5 h1.8 L405.60,97.3 h2.6 M408.50,95.5 h1.8 L411.10,97.3 h2.6 M414.00,95.5 h1.8 L416.60,97.3 h2.6 M419.50,95.5 h1.8 L422.10,97.3 h2.6 M425.00,95.5 h1.8 L427.60,97.3 h2.6 M430.50,95.5 h1.8 L433.10,97.3 h2.6 M436.00,95.5 h1.8 L438.60,97.3 h2.6 M441.50,95.5 h1.8 L444.10,97.3 h2.6 M447.00,95.5 h1.8 L449.60,97.3 h2.6 M452.50,95.5 h1.8 L455.10,97.3 h2.6 M458.00,95.5 h1.8 L460.60,97.3 h2.6 M463.50,95.5 h1.8 L466.10,97.3 h2.6 M469.00,95.5 h1.8 L471.60,97.3 h2.6 M474.50,95.5 h1.8 L477.10,97.3 h2.6 M480.00,95.5 h1.8 L482.60,97.3 h2.6 M485.50,95.5 h1.8 L488.10,97.3 h2.6 M491.00,95.5 h1.8 L493.60,97.3 h2.6 M496.50,95.5 h1.8 L499.10,97.3 h2.6 M502.00,95.5 h1.8 L504.60,97.3 h2.6 M507.50,95.5 h1.8 L510.10,97.3 h2.6 M513.00,95.5 h1.8 L515.60,97.3 h2.6 M518.50,95.5 h1.8 L521.10,97.3 h2.6 M524.00,95.5 h1.8 L526.60,97.3 h2.6 M529.50,95.5 h1.8 L532.10,97.3 h2.6 M535.00,95.5 h1.8 L537.60,97.3 h2.6 M540.50,95.5 h1.8 L543.10,97.3 h2.6 M546.00,95.5 h1.8 L548.60,97.3 h2.6 M551.50,95.5 h1.8 L554.10,97.3 h2.6 M557.00,95.5 h1.8 L559.60,97.3 h2.6 M562.50,95.5 h1.8 L565.10,97.3 h2.6 M568.00,95.5 h1.8 L570.60,97.3 h2.6 M573.50,95.5 h1.8 L576.10,97.3 h2.6 M579.00,95.5 h1.8 L581.60,97.3 h2.6 M584.50,95.5 h1.8 L587.10,97.3 h2.6 M590.00,95.5 h1.8 L592.60,97.3 h2.6 M595.50,95.5 h1.8 L598.10,97.3 h2.6 M601.00,95.5 h1.8 L603.60,97.3 h2.6 M606.50,95.5 h1.8 L609.10,97.3 h2.6 M612.00,95.5 h1.8 L614.60,97.3 h2.6 M617.50,95.5 h1.8 L620.10,97.3 h2.6 M623.00,95.5 h1.8 L625.60,97.3 h2.6 M628.50,95.5 h1.8 L631.10,97.3 h2.6 M634.00,95.5 h1.8 L636.60,97.3 h2.6 M639.50,95.5 h1.8 L642.10,97.3 h2.6 M645.00,95.5 h1.8 L647.60,97.3 h2.6 M650.50,95.5 h1.8 L653.10,97.3 h2.6 M656.00,95.5 h1.8 L658.60,97.3 h2.6 M661.50,95.5 h1.8 L664.10,97.3 h2.6 M667.00,95.5 h1.8 L669.60,97.3 h2.6 M672.50,95.5 h1.8 L675.10,97.3 h2.6 M678.00,95.5 h1.8 L680.60,97.3 h2.6 M683.50,95.5 h1.8 L686.10,97.3 h2.6 M689.00,95.5 h1.8 L691.60,97.3 h2.6 M694.50,95.5 h1.8 L697.10,97.3 h2.6 M700.00,95.5 h1.8 L702.60,97.3 h2.6 M705.50,95.5 h1.8 L708.10,97.3 h2.6 M711.00,95.5 h1.8 L713.60,97.3 h2.6 M716.50,95.5 h1.8 L719.10,97.3 h2.6 M722.00,95.5 h1.8 L724.60,97.3 h2.6 M727.50,95.5 h1.8 L730.10,97.3 h2.6 M733.00,95.5 h1.8 L735.60,97.3 h2.6 M738.50,95.5 h1.8 L741.10,97.3 h2.6 M744.00,95.5 h1.8 L746.60,97.3 h2.6 M749.50,95.5 h1.8 L752.10,97.3 h2.6 M755.00,95.5 h1.8 L757.60,97.3 h2.6 M760.50,95.5 h1.8 L763.10,97.3 h2.6 M766.00,95.5 h1.8 L768.60,97.3 h2.6 M771.50,95.5 h1.8 L774.10,97.3 h2.6 M777.00,95.5 h1.8 L779.60,97.3 h2.6 M782.50,95.5 h1.8 L785.10,97.3 h2.6 M788.00,95.5 h1.8 L790.60,97.3 h2.6 M793.50,95.5 h1.8 L796.10,97.3 h2.6 M799.00,95.5 h1.8 L801.60,97.3 h2.6 M804.50,95.5 h1.8 L807.10,97.3 h2.6 M810.00,95.5 h1.8 L812.60,97.3 h2.6 M815.50,95.5 h1.8 L818.10,97.3 h2.6 M821.00,95.5 h1.8 L823.60,97.3 h2.6 M826.50,95.5 h1.8 L829.10,97.3 h2.6 M832.00,95.5 h1.8 L834.60,97.3 h2.6 M837.50,95.5 h1.8 L840.10,97.3 h2.6 M843.00,95.5 h1.8 L845.60,97.3 h2.6 M848.50,95.5 h1.8 L851.10,97.3 h2.6 M854.00,95.5 h1.8 L856.60,97.3 h2.6 M859.50,95.5 h1.8 L862.10,97.3 h2.6 M865.00,95.5 h1.8 L867.60,97.3 h2.6 M870.50,95.5 h1.8 L873.10,97.3 h2.6 M876.00,95.5 h1.8 L878.60,97.3 h2.6 M881.50,95.5 h1.8 L884.10,97.3 h2.6 M887.00,95.5 h1.8 L889.60,97.3 h2.6 M892.50,95.5 h1.8 L895.10,97.3 h2.6 M898.00,95.5 h1.8 L900.60,97.3 h2.6 M903.50,95.5 h1.8 L906.10,97.3 h2.6 M909.00,95.5 h1.8 L911.60,97.3 h2.6 M914.50,95.5 h1.8 L917.10,97.3 h2.6 M920.00,95.5 h1.8 L922.60,97.3 h2.6 M925.50,95.5 h1.8 L928.10,97.3 h2.6 M931.00,95.5 h1.8 L933.60,97.3 h2.6 M936.50,95.5 h1.8 L939.10,97.3 h2.6 M942.00,95.5 h1.8 L944.60,97.3 h2.6 M947.50,95.5 h1.8 L950.10,97.3 h2.6 M953.00,95.5 h1.8 L955.60,97.3 h2.6 M958.50,95.5 h1.8 L961.10,97.3 h2.6 M964.00,95.5 h1.8 L966.60,97.3 h2.6 M969.50,95.5 h1.8 L972.10,97.3 h2.6 M975.00,95.5 h1.8 L977.60,97.3 h2.6 M980.50,95.5 h1.8 L983.10,97.3 h2.6 M986.00,95.5 h1.8 L988.60,97.3 h2.6 M991.50,95.5 h1.8 L994.10,97.3 h2.6 M997.00,95.5 h1.8 L999.60,97.3 h2.6 M1002.50,95.5 h1.8 L1005.10,97.3 h2.6 M1008.00,95.5 h1.8 L1010.60,97.3 h2.6 M1013.50,95.5 h1.8 L1016.10,97.3 h2.6 M1019.00,95.5 h1.8 L1021.60,97.3 h2.6 M1024.50,95.5 h1.8 L1027.10,97.3 h2.6 M1030.00,95.5 h1.8 L1032.60,97.3 h2.6 M1035.50,95.5 h1.8 L1038.10,97.3 h2.6 M1041.00,95.5 h1.8 L1043.60,97.3 h2.6 M1046.50,95.5 h1.8 L1049.10,97.3 h2.6 M1052.00,95.5 h1.8 L1054.60,97.3 h2.6 M1057.50,95.5 h1.8 L1060.10,97.3 h2.6 M1063.00,95.5 h1.8 L1065.60,97.3 h2.6 M1068.50,95.5 h1.8 L1071.10,97.3 h2.6 M1074.00,95.5 h1.8 L1076.60,97.3 h2.6 M1079.50,95.5 h1.8 L1082.10,97.3 h2.6 M1085.00,95.5 h1.8 L1087.60,97.3 h2.6 M1090.50,95.5 h1.8 L1093.10,97.3 h2.6 M1096.00,95.5 h1.8 L1098.60,97.3 h2.6 M1101.50,95.5 h1.8 L1104.10,97.3 h2.6 M1107.00,95.5 h1.8 L1109.60,97.3 h2.6 M1112.50,95.5 h1.8 L1115.10,97.3 h2.6 M1118.00,95.5 h1.8 L1120.60,97.3 h2.6 M1123.50,95.5 h1.8 L1126.10,97.3 h2.6 M1129.00,95.5 h1.8 L1131.60,97.3 h2.6 M1134.50,95.5 h1.8 L1137.10,97.3 h2.6 M1140.00,95.5 h1.8 L1142.60,97.3 h2.6" stroke="#000" stroke-width="1.2" fill="none"/>
<rect x="1143" y="95" width="4" height="672" fill="#000"/>
<rect x="149" y="762.8" width="998" height="1.3" fill="#000"/>
<path d="M150.50,764.3 L152.70,764.3 L154.70,768 M156.10,764.3 L158.30,764.3 L160.30,768 M161.70,764.3 L163.90,764.3 L165.90,768 M167.30,764.3 L169.50,764.3 L171.50,768 M172.90,764.3 L175.10,764.3 L177.10,768 M178.50,764.3 L180.70,764.3 L182.70,768 M184.10,764.3 L186.30,764.3 L188.30,768 M189.70,764.3 L191.90,764.3 L193.90,768 M195.30,764.3 L197.50,764.3 L199.50,768 M200.90,764.3 L203.10,764.3 L205.10,768 M206.50,764.3 L208.70,764.3 L210.70,768 M212.10,764.3 L214.30,764.3 L216.30,768 M217.70,764.3 L219.90,764.3 L221.90,768 M223.30,764.3 L225.50,764.3 L227.50,768 M228.90,764.3 L231.10,764.3 L233.10,768 M234.50,764.3 L236.70,764.3 L238.70,768 M240.10,764.3 L242.30,764.3 L244.30,768 M245.70,764.3 L247.90,764.3 L249.90,768 M251.30,764.3 L253.50,764.3 L255.50,768 M256.90,764.3 L259.10,764.3 L261.10,768 M262.50,764.3 L264.70,764.3 L266.70,768 M268.10,764.3 L270.30,764.3 L272.30,768 M273.70,764.3 L275.90,764.3 L277.90,768 M279.30,764.3 L281.50,764.3 L283.50,768 M284.90,764.3 L287.10,764.3 L289.10,768 M290.50,764.3 L292.70,764.3 L294.70,768 M296.10,764.3 L298.30,764.3 L300.30,768 M301.70,764.3 L303.90,764.3 L305.90,768 M307.30,764.3 L309.50,764.3 L311.50,768 M312.90,764.3 L315.10,764.3 L317.10,768 M318.50,764.3 L320.70,764.3 L322.70,768 M324.10,764.3 L326.30,764.3 L328.30,768 M329.70,764.3 L331.90,764.3 L333.90,768 M335.30,764.3 L337.50,764.3 L339.50,768 M340.90,764.3 L343.10,764.3 L345.10,768 M346.50,764.3 L348.70,764.3 L350.70,768 M352.10,764.3 L354.30,764.3 L356.30,768 M357.70,764.3 L359.90,764.3 L361.90,768 M363.30,764.3 L365.50,764.3 L367.50,768 M368.90,764.3 L371.10,764.3 L373.10,768 M374.50,764.3 L376.70,764.3 L378.70,768 M380.10,764.3 L382.30,764.3 L384.30,768 M385.70,764.3 L387.90,764.3 L389.90,768 M391.30,764.3 L393.50,764.3 L395.50,768 M396.90,764.3 L399.10,764.3 L401.10,768 M402.50,764.3 L404.70,764.3 L406.70,768 M408.10,764.3 L410.30,764.3 L412.30,768 M413.70,764.3 L415.90,764.3 L417.90,768 M419.30,764.3 L421.50,764.3 L423.50,768 M424.90,764.3 L427.10,764.3 L429.10,768 M430.50,764.3 L432.70,764.3 L434.70,768 M436.10,764.3 L438.30,764.3 L440.30,768 M441.70,764.3 L443.90,764.3 L445.90,768 M447.30,764.3 L449.50,764.3 L451.50,768 M452.90,764.3 L455.10,764.3 L457.10,768 M458.50,764.3 L460.70,764.3 L462.70,768 M464.10,764.3 L466.30,764.3 L468.30,768 M469.70,764.3 L471.90,764.3 L473.90,768 M475.30,764.3 L477.50,764.3 L479.50,768 M480.90,764.3 L483.10,764.3 L485.10,768 M486.50,764.3 L488.70,764.3 L490.70,768 M492.10,764.3 L494.30,764.3 L496.30,768 M497.70,764.3 L499.90,764.3 L501.90,768 M503.30,764.3 L505.50,764.3 L507.50,768 M508.90,764.3 L511.10,764.3 L513.10,768 M514.50,764.3 L516.70,764.3 L518.70,768 M520.10,764.3 L522.30,764.3 L524.30,768 M525.70,764.3 L527.90,764.3 L529.90,768 M531.30,764.3 L533.50,764.3 L535.50,768 M536.90,764.3 L539.10,764.3 L541.10,768 M542.50,764.3 L544.70,764.3 L546.70,768 M548.10,764.3 L550.30,764.3 L552.30,768 M553.70,764.3 L555.90,764.3 L557.90,768 M559.30,764.3 L561.50,764.3 L563.50,768 M564.90,764.3 L567.10,764.3 L569.10,768 M570.50,764.3 L572.70,764.3 L574.70,768 M576.10,764.3 L578.30,764.3 L580.30,768 M581.70,764.3 L583.90,764.3 L585.90,768 M587.30,764.3 L589.50,764.3 L591.50,768 M592.90,764.3 L595.10,764.3 L597.10,768 M598.50,764.3 L600.70,764.3 L602.70,768 M604.10,764.3 L606.30,764.3 L608.30,768 M609.70,764.3 L611.90,764.3 L613.90,768 M615.30,764.3 L617.50,764.3 L619.50,768 M620.90,764.3 L623.10,764.3 L625.10,768 M626.50,764.3 L628.70,764.3 L630.70,768 M632.10,764.3 L634.30,764.3 L636.30,768 M637.70,764.3 L639.90,764.3 L641.90,768 M643.30,764.3 L645.50,764.3 L647.50,768 M648.90,764.3 L651.10,764.3 L653.10,768 M654.50,764.3 L656.70,764.3 L658.70,768 M660.10,764.3 L662.30,764.3 L664.30,768 M665.70,764.3 L667.90,764.3 L669.90,768 M671.30,764.3 L673.50,764.3 L675.50,768 M676.90,764.3 L679.10,764.3 L681.10,768 M682.50,764.3 L684.70,764.3 L686.70,768 M688.10,764.3 L690.30,764.3 L692.30,768 M693.70,764.3 L695.90,764.3 L697.90,768 M699.30,764.3 L701.50,764.3 L703.50,768 M704.90,764.3 L707.10,764.3 L709.10,768 M710.50,764.3 L712.70,764.3 L714.70,768 M716.10,764.3 L718.30,764.3 L720.30,768 M721.70,764.3 L723.90,764.3 L725.90,768 M727.30,764.3 L729.50,764.3 L731.50,768 M732.90,764.3 L735.10,764.3 L737.10,768 M738.50,764.3 L740.70,764.3 L742.70,768 M744.10,764.3 L746.30,764.3 L748.30,768 M749.70,764.3 L751.90,764.3 L753.90,768 M755.30,764.3 L757.50,764.3 L759.50,768 M760.90,764.3 L763.10,764.3 L765.10,768 M766.50,764.3 L768.70,764.3 L770.70,768 M772.10,764.3 L774.30,764.3 L776.30,768 M777.70,764.3 L779.90,764.3 L781.90,768 M783.30,764.3 L785.50,764.3 L787.50,768 M788.90,764.3 L791.10,764.3 L793.10,768 M794.50,764.3 L796.70,764.3 L798.70,768 M800.10,764.3 L802.30,764.3 L804.30,768 M805.70,764.3 L807.90,764.3 L809.90,768 M811.30,764.3 L813.50,764.3 L815.50,768 M816.90,764.3 L819.10,764.3 L821.10,768 M822.50,764.3 L824.70,764.3 L826.70,768 M828.10,764.3 L830.30,764.3 L832.30,768 M833.70,764.3 L835.90,764.3 L837.90,768 M839.30,764.3 L841.50,764.3 L843.50,768 M844.90,764.3 L847.10,764.3 L849.10,768 M850.50,764.3 L852.70,764.3 L854.70,768 M856.10,764.3 L858.30,764.3 L860.30,768 M861.70,764.3 L863.90,764.3 L865.90,768 M867.30,764.3 L869.50,764.3 L871.50,768 M872.90,764.3 L875.10,764.3 L877.10,768 M878.50,764.3 L880.70,764.3 L882.70,768 M884.10,764.3 L886.30,764.3 L888.30,768 M889.70,764.3 L891.90,764.3 L893.90,768 M895.30,764.3 L897.50,764.3 L899.50,768 M900.90,764.3 L903.10,764.3 L905.10,768 M906.50,764.3 L908.70,764.3 L910.70,768 M912.10,764.3 L914.30,764.3 L916.30,768 M917.70,764.3 L919.90,764.3 L921.90,768 M923.30,764.3 L925.50,764.3 L927.50,768 M928.90,764.3 L931.10,764.3 L933.10,768 M934.50,764.3 L936.70,764.3 L938.70,768 M940.10,764.3 L942.30,764.3 L944.30,768 M945.70,764.3 L947.90,764.3 L949.90,768 M951.30,764.3 L953.50,764.3 L955.50,768 M956.90,764.3 L959.10,764.3 L961.10,768 M962.50,764.3 L964.70,764.3 L966.70,768 M968.10,764.3 L970.30,764.3 L972.30,768 M973.70,764.3 L975.90,764.3 L977.90,768 M979.30,764.3 L981.50,764.3 L983.50,768 M984.90,764.3 L987.10,764.3 L989.10,768 M990.50,764.3 L992.70,764.3 L994.70,768 M996.10,764.3 L998.30,764.3 L1000.30,768 M1001.70,764.3 L1003.90,764.3 L1005.90,768 M1007.30,764.3 L1009.50,764.3 L1011.50,768 M1012.90,764.3 L1015.10,764.3 L1017.10,768 M1018.50,764.3 L1020.70,764.3 L1022.70,768 M1024.10,764.3 L1026.30,764.3 L1028.30,768 M1029.70,764.3 L1031.90,764.3 L1033.90,768 M1035.30,764.3 L1037.50,764.3 L1039.50,768 M1040.90,764.3 L1043.10,764.3 L1045.10,768 M1046.50,764.3 L1048.70,764.3 L1050.70,768 M1052.10,764.3 L1054.30,764.3 L1056.30,768 M1057.70,764.3 L1059.90,764.3 L1061.90,768 M1063.30,764.3 L1065.50,764.3 L1067.50,768 M1068.90,764.3 L1071.10,764.3 L1073.10,768 M1074.50,764.3 L1076.70,764.3 L1078.70,768 M1080.10,764.3 L1082.30,764.3 L1084.30,768 M1085.70,764.3 L1087.90,764.3 L1089.90,768 M1091.30,764.3 L1093.50,764.3 L1095.50,768 M1096.90,764.3 L1099.10,764.3 L1101.10,768 M1102.50,764.3 L1104.70,764.3 L1106.70,768 M1108.10,764.3 L1110.30,764.3 L1112.30,768 M1113.70,764.3 L1115.90,764.3 L1117.90,768 M1119.30,764.3 L1121.50,764.3 L1123.50,768 M1124.90,764.3 L1127.10,764.3 L1129.10,768 M1130.50,764.3 L1132.70,764.3 L1134.70,768 M1136.10,764.3 L1138.30,764.3 L1140.30,768 M1141.70,764.3 L1143.90,764.3 L1145.90,768" stroke="#000" stroke-width="1.4" fill="none"/>
<!-- boxes -->
<g fill="none" stroke="#000" stroke-linecap="butt">
<line x1="231.5" y1="589" x2="231.5" y2="740" stroke-width="1.1" stroke-dasharray="4 2 1 2"/>
<line x1="233" y1="590" x2="316" y2="590" stroke-width="1.9" stroke-dasharray="6 2"/>
<line x1="315" y1="589" x2="315" y2="740" stroke-width="1.7" stroke-dasharray="5.5 2.5"/>
<line x1="231" y1="739" x2="316" y2="739" stroke-width="2" stroke-dasharray="5.5 2"/>
<line x1="403" y1="589" x2="403" y2="740" stroke-width="1.6" stroke-dasharray="5 2.5"/>
<line x1="402" y1="590" x2="583" y2="590" stroke-width="2" stroke-dasharray="6 2"/>
<line x1="582" y1="589" x2="582" y2="740" stroke-width="1.4" stroke-dasharray="3 3"/>
<line x1="402" y1="739" x2="583" y2="739" stroke-width="2" stroke-dasharray="6 2"/>
<line x1="646.5" y1="319" x2="646.5" y2="583" stroke-width="1.1" stroke-dasharray="5.5 2.5"/>
<line x1="647" y1="320" x2="758" y2="320" stroke-width="1.6" stroke-dasharray="4 2"/>
<line x1="757.5" y1="320" x2="757.5" y2="583" stroke-width="1.1" stroke-dasharray="3 2.5"/>
<line x1="646" y1="582.5" x2="758" y2="582.5" stroke-width="1.1" stroke-dasharray="6 2"/>
<line x1="841" y1="218" x2="841" y2="482" stroke-width="1.7" stroke-dasharray="5 2.5"/>
<line x1="842" y1="219" x2="1139" y2="219" stroke-width="1.7" stroke-dasharray="3.5 2.5"/>
<line x1="1138" y1="218" x2="1138" y2="482" stroke-width="1.7" stroke-dasharray="5.5 2.5"/>
<line x1="840" y1="481.5" x2="1139" y2="481.5" stroke-width="1.1" stroke-dasharray="4 3"/>
</g>
<!-- legend lines -->
<line x1="177" y1="136" x2="235" y2="136" stroke="#000" stroke-width="1.6" stroke-dasharray="12 3.5"/>
<line x1="178" y1="184.4" x2="234" y2="184.4" stroke="#000" stroke-width="1.2"/>
<!-- curves -->
<path d="M150,705 L156,701.7 L165,696.7 L173,691.7 L181,686.3 L190,681.7 L198,676.7 L206,672.5 L215,668.5 L223,666.5 L231,665.5 L240,665.5 L250,666.3 L270,667.7 L290,669.5 L300,671 L318,672.8 L336.7,676.5 L355,679.3 L373.4,682.9 L391.7,687.1 L401,689.4 L420,694 L440,695.5 L460,694.8 L480,694.5 L490,694.2 L500,691 L510,689 L520,686 L530,681 L540,673 L550,666 L560,659 L565.6,655 L576.3,648.6 L586.9,643.3 L597.5,636.4 L608.1,627.9 L618.8,618.4 L629.4,608.3 L637.9,599.8 L644,588.5 L650,579.5 L655.1,572.4 L660.1,564.4 L665.2,557.3 L670.2,548.3 L675.2,541.2 L680.2,532.2 L685.3,523.1 L690.2,509.4 L697.4,496.3 L704.7,481.7 L712,468.7 L719.2,454.1 L726.5,438.1 L733.8,423.6 L741,412 L746.9,400.3 L751.9,390.2 L758.5,381.5 L772.6,367.9 L785,355.4 L797.6,347.6 L811.7,339.7 L825.8,331.9 L840,324.9 L855.5,319.4 L862.9,317.6 L878.9,312.5 L894.9,307.4 L909.4,303 L925.4,298 L935.6,293.6 L950.1,288.5 L961.7,285.6 L971.9,282 L985,280.5 L999.5,279.8 L1012.5,276.9 L1025,274.8 L1037.5,272.3 L1050,273.1 L1061.3,275 L1070,272.8 L1081.3,270.6 L1091.3,267.3 L1107.5,267.3 L1118.8,278.5 L1131.3,290 L1143,302" fill="none" stroke="#000" stroke-width="1.4" stroke-dasharray="5 2" stroke-linejoin="round"/>
<path d="M150,705 L156,701.7 L165,696.7 L173,691.7 L181,686.3 L190,681.7 L198,678.3 L206.3,673.8 L214.7,669.5 L223,668.3 L231.3,668.3 L248,668.3 L262,669.5 L277,672 L300,674.2 L309.2,674.7 L318.3,676.5 L327.5,678.3 L336.7,680.2 L345.9,681.6 L355,683.7 L364.2,685.2 L373.4,687.1 L382.6,688.9 L391.7,690.7 L401,691.2 L420,691.4 L440,690 L450,689 L460,686.5 L470,685 L480,683 L490,678 L500,674.5 L510,671.5 L520,668 L530,662.5 L540,656.5 L550,650.5 L555,647.6 L565.6,642.3 L576.3,635.9 L586.9,629.5 L597.5,623.1 L608.1,614.6 L618.8,607.2 L629.4,599.8 L640,592.3 L647.5,584.9 L652.1,580.5 L658.1,573.4 L665.2,563.4 L670.2,555.3 L675.2,548.3 L680.2,541.2 L685.3,533.2 L690.3,525.2 L695.3,517.1 L701.8,508.6 L709.1,497.7 L717.8,484.7 L726.5,471.6 L735.2,459.9 L744,446.9 L751.2,436.7 L758.5,425.1 L764.3,413.4 L770.1,409.1 L780.4,402.3 L792.9,394.5 L807,382 L819.5,375.7 L839.9,367.9 L855.5,361.6 L861.5,361.2 L876,356.8 L889.1,351.7 L909.4,345.9 L925.4,340.1 L941.4,335 L961.7,329.9 L976.3,325.6 L987.9,323.4 L999.5,321.2 L1016.3,316.9 L1027.5,313.1 L1041.3,310.3 L1050,311.3 L1061.9,314.4 L1070,310 L1085,304.4 L1100,304.8 L1107.5,306.3 L1120,317 L1131.3,326 L1140,335 L1143,338" fill="none" stroke="#000" stroke-width="1.0" stroke-dasharray="5 2.5" stroke-linejoin="round"/>
<text x="472.0" y="60.0" font-size="41.5" font-weight="normal" textLength="120.42" lengthAdjust="spacingAndGlyphs" fill="#444" stroke="#fff" stroke-width="0.7" >Average</text>
<text x="600.0" y="60.0" font-size="41.5" font-weight="normal" textLength="138.72" lengthAdjust="spacingAndGlyphs" fill="#444" stroke="#fff" stroke-width="0.7" >Spectrum</text>
<text x="78.0" y="105.5" font-size="43.37" font-weight="normal" textLength="46.0" lengthAdjust="spacingAndGlyphs" fill="#444" stroke="#fff" stroke-width="0.7" >0.8</text>
<text x="78.0" y="191.5" font-size="43.37" font-weight="normal" textLength="44.96" lengthAdjust="spacingAndGlyphs" fill="#444" stroke="#fff" stroke-width="0.7" >0.7</text>
<text x="78.0" y="267.5" font-size="43.37" font-weight="normal" textLength="44.96" lengthAdjust="spacingAndGlyphs" fill="#444" stroke="#fff" stroke-width="0.7" >0.6</text>
<text x="78.0" y="357.5" font-size="43.37" font-weight="normal" textLength="45.0" lengthAdjust="spacingAndGlyphs" fill="#444" stroke="#fff" stroke-width="0.7" >0.5</text>
<text x="78.0" y="438.5" font-size="43.37" font-weight="normal" textLength="44.93" lengthAdjust="spacingAndGlyphs" fill="#444" stroke="#fff" stroke-width="0.7" >0.4</text>
<text x="75.0" y="538.5" font-size="43.37" font-weight="normal" textLength="46.0" lengthAdjust="spacingAndGlyphs" fill="#444" stroke="#fff" stroke-width="0.7" >0.3</text>
<text x="75.0" y="612.5" font-size="43.37" font-weight="normal" textLength="48.15" lengthAdjust="spacingAndGlyphs" fill="#444" stroke="#fff" stroke-width="0.7" >0.2</text>
<text x="75.0" y="698.5" font-size="43.37" font-weight="normal" textLength="44.81" lengthAdjust="spacingAndGlyphs" fill="#444" stroke="#fff" stroke-width="0.7" >0.1</text>
<text x="86.0" y="763.5" font-size="43.37" font-weight="normal" textLength="21.0" lengthAdjust="spacingAndGlyphs" fill="#444" stroke="#fff" stroke-width="0.7" >0</text>
<text x="118.0" y="811.5" font-size="43.37" font-weight="normal" textLength="55.06" lengthAdjust="spacingAndGlyphs" fill="#444" stroke="#fff" stroke-width="0.7" >380</text>
<text x="210.0" y="811.5" font-size="43.37" font-weight="normal" textLength="55.65" lengthAdjust="spacingAndGlyphs" fill="#444" stroke="#fff" stroke-width="0.7" >420</text>
<text x="301.5" y="811.5" font-size="43.37" font-weight="normal" textLength="55.46" lengthAdjust="spacingAndGlyphs" fill="#444" stroke="#fff" stroke-width="0.7" >460</text>
<text x="393.0" y="811.5" font-size="43.37" font-weight="normal" textLength="57.1" lengthAdjust="spacingAndGlyphs" fill="#444" stroke="#fff" stroke-width="0.7" >500</text>
<text x="486.0" y="811.5" font-size="43.37" font-weight="normal" textLength="55.65" lengthAdjust="spacingAndGlyphs" fill="#444" stroke="#fff" stroke-width="0.7" >540</text>
<text x="588.0" y="811.5" font-size="43.37" font-weight="normal" textLength="55.33" lengthAdjust="spacingAndGlyphs" fill="#444" stroke="#fff" stroke-width="0.7" >580</text>
<text x="691.0" y="811.5" font-size="43.37" font-weight="normal" textLength="55.67" lengthAdjust="spacingAndGlyphs" fill="#444" stroke="#fff" stroke-width="0.7" >620</text>
<text x="802.5" y="811.5" font-size="43.37" font-weight="normal" textLength="55.7" lengthAdjust="spacingAndGlyphs" fill="#444" stroke="#fff" stroke-width="0.7" >660</text>
<text x="903.0" y="811.5" font-size="43.37" font-weight="normal" textLength="56.7" lengthAdjust="spacingAndGlyphs" fill="#444" stroke="#fff" stroke-width="0.7" >700</text>
<text x="1006.0" y="811.5" font-size="43.37" font-weight="normal" textLength="56.24" lengthAdjust="spacingAndGlyphs" fill="#444" stroke="#fff" stroke-width="0.7" >740</text>
<text x="1107.0" y="811.5" font-size="43.37" font-weight="normal" textLength="56.24" lengthAdjust="spacingAndGlyphs" fill="#444" stroke="#fff" stroke-width="0.7" >780</text>
<text x="525.0" y="860.0" font-size="39.33" font-weight="normal" textLength="173.82" lengthAdjust="spacingAndGlyphs" fill="#444" stroke="#fff" stroke-width="0.7" >Wavelength</text>
<text x="696.0" y="860.0" font-size="39.33" font-weight="normal" textLength="70.85" lengthAdjust="spacingAndGlyphs" fill="#444" stroke="#fff" stroke-width="0.7" >(nm)</text>
<text x="0" y="0" font-size="39.11" font-weight="normal" textLength="169.32" lengthAdjust="spacingAndGlyphs" fill="#444" stroke="#fff" stroke-width="0.7" transform="translate(61.0,510.0) rotate(-90)" >Reflectance</text>
<text x="249.0" y="145.0" font-size="35.57" font-weight="normal" textLength="206.58" lengthAdjust="spacingAndGlyphs" fill="#000" stroke="#000" stroke-width="0.5" >non-metastatic</text>
<text x="464.0" y="145.0" font-size="35.57" font-weight="normal" textLength="91.27" lengthAdjust="spacingAndGlyphs" fill="#000" stroke="#000" stroke-width="0.5" >cancer</text>
<text x="564.0" y="145.0" font-size="35.57" font-weight="normal" textLength="50.04" lengthAdjust="spacingAndGlyphs" fill="#000" stroke="#000" stroke-width="0.5" >cell</text>
<text x="249.0" y="192.0" font-size="35.57" font-weight="normal" textLength="140.02" lengthAdjust="spacingAndGlyphs" fill="#000" stroke="#000" stroke-width="0.5" >metastatic</text>
<text x="399.0" y="192.0" font-size="35.57" font-weight="normal" textLength="91.02" lengthAdjust="spacingAndGlyphs" fill="#000" stroke="#000" stroke-width="0.5" >cancer</text>
<text x="499.0" y="192.0" font-size="35.57" font-weight="normal" textLength="48.9" lengthAdjust="spacingAndGlyphs" fill="#000" stroke="#000" stroke-width="0.5" >cell</text>
<text x="162.0" y="575.5" font-size="40.29" font-weight="normal" textLength="221.09" lengthAdjust="spacingAndGlyphs" fill="#000" stroke="#000" stroke-width="0.2" >410nm-450nm</text>
<text x="394.0" y="575.5" font-size="40.29" font-weight="normal" textLength="223.1" lengthAdjust="spacingAndGlyphs" fill="#000" stroke="#000" stroke-width="0.2" >500nm-560nm</text>
<text x="600.0" y="296.0" font-size="40.37" font-weight="normal" textLength="222.09" lengthAdjust="spacingAndGlyphs" fill="#000" stroke="#000" stroke-width="0.2" >590nm-620nm</text>
<text x="878.0" y="197.5" font-size="40.4" font-weight="normal" textLength="221.1" lengthAdjust="spacingAndGlyphs" fill="#000" stroke="#000" stroke-width="0.2" >660nm-780nm</text>
</svg>
</body></html>
